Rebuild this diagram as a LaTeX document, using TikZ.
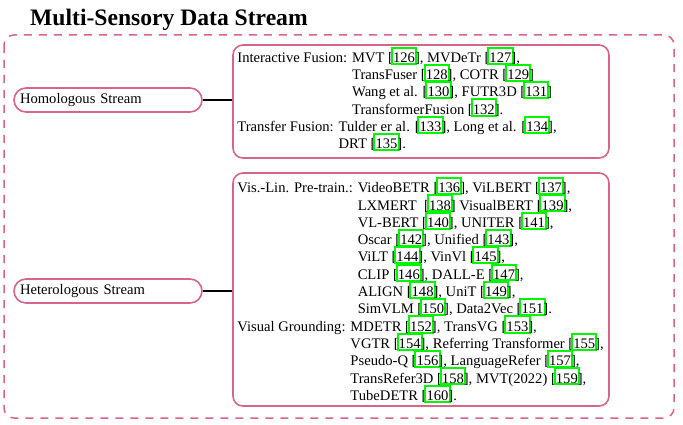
\documentclass[tikz,border=0pt]{standalone}
\usepackage{fontspec}
\setmainfont{Liberation Serif}
\definecolor{streampink}{RGB}{215,100,138}
\definecolor{linkgreen}{RGB}{0,245,0}
\newcommand{\bodyfont}{\fontsize{14.6}{17.3}\selectfont}
% green link frame drawn over the number, as the pdf viewer shows it
\newcommand{\refmark}[1]{[\rlap{\kern-2.2pt\smash{\textcolor{linkgreen}{\fboxsep=0.2pt\fboxrule=2pt\fbox{\rule[0.25pt]{0pt}{13.3pt}\phantom{#1}}}}}#1]}
\begin{document}
\begin{tikzpicture}[x=1pt,y=-1pt,
  pill/.style={draw=streampink,line width=1.6pt,rounded corners=12pt,minimum width=188pt,minimum height=24pt,text width=176pt,inner xsep=6pt,align=left,font=\bodyfont},
  listframe/.style={draw=streampink,line width=1.6pt,rounded corners=10pt,minimum width=376pt},
  reflist/.style={align=left,inner sep=0pt,anchor=west,xshift=5pt,font=\bodyfont},
  link/.style={line width=1.3pt}]
\useasboundingbox (0,0) rectangle (683,425);
\node[anchor=base west,inner sep=0pt,font=\fontsize{23.6}{28}\selectfont\bfseries] (title) at (30,25.5) {Multi-Sensory Data Stream};
\draw[streampink,line width=1.5pt,dash pattern=on 8pt off 7pt,rounded corners=10pt] (4,35) rectangle (674,418);
% left column
\node[pill] (hom) at (108,100) {Homologous Stream};
\node[pill] (het) at (108,291) {Heterologous Stream};
% right column
\node[listframe,minimum height=113pt] (homlist) at (421,101.5) {};
\node[listframe,minimum height=233pt] (hetlist) at (421,289.5) {};
\node[reflist] (homrefs) at (homlist.west) {Interactive Fusion: MVT \refmark{126}, MVDeTr \refmark{127},\\
\hphantom{Interactive Fusion: }TransFuser \refmark{128}, COTR \refmark{129}\\
\hphantom{Interactive Fusion: }Wang et al. \refmark{130}, FUTR3D \refmark{131}\\
\hphantom{Interactive Fusion: }TransformerFusion \refmark{132}.\\
Transfer Fusion: Tulder er al. \refmark{133}, Long et al. \refmark{134},\\
\hphantom{Transfer Fusion: }DRT \refmark{135}.};
\node[reflist,yshift=-3pt] (hetrefs) at (hetlist.west) {Vis.-Lin. Pre-train.: VideoBETR \refmark{136}, ViLBERT \refmark{137},\\
\hphantom{Vis.-Lin. Pre-train.: }LXMERT \ \refmark{138} VisualBERT \refmark{139},\\
\hphantom{Vis.-Lin. Pre-train.: }VL-BERT \refmark{140}, UNITER \refmark{141},\\
\hphantom{Vis.-Lin. Pre-train.: }Oscar \refmark{142}, Unified \refmark{143},\\
\hphantom{Vis.-Lin. Pre-train.: }ViLT \refmark{144}, VinVl \refmark{145},\\
\hphantom{Vis.-Lin. Pre-train.: }CLIP \refmark{146}, DALL-E \refmark{147},\\
\hphantom{Vis.-Lin. Pre-train.: }ALIGN \refmark{148}, UniT \refmark{149},\\
\hphantom{Vis.-Lin. Pre-train.: }SimVLM \refmark{150}, Data2Vec \refmark{151}.\\
Visual Grounding: MDETR \refmark{152}, TransVG \refmark{153},\\
\hphantom{Visual Grounding: }VGTR \refmark{154}, Referring Transformer \refmark{155},\\
\hphantom{Visual Grounding: }Pseudo-Q \refmark{156}, LanguageRefer \refmark{157},\\
\hphantom{Visual Grounding: }TransRefer3D \refmark{158}, MVT(2022) \refmark{159},\\
\hphantom{Visual Grounding: }TubeDETR \refmark{160}.};
% connectors
\draw[link] (hom.east) -- (hom.east -| homlist.west);
\draw[link] (het.east) -- (het.east -| hetlist.west);
\end{tikzpicture}
\end{document}
